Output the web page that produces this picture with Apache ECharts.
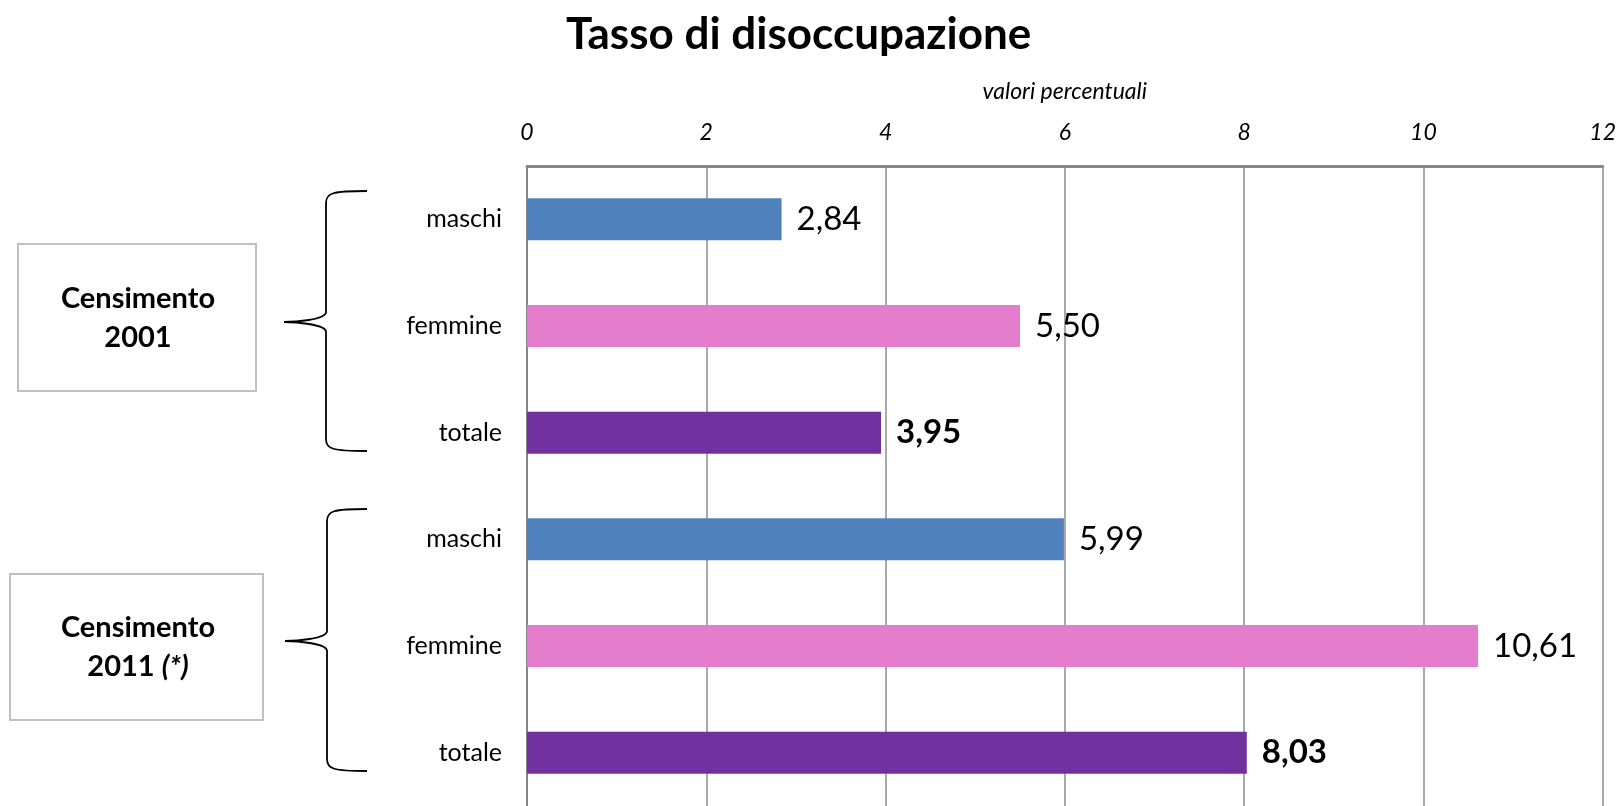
<!DOCTYPE html>
<html>
<head>
<meta charset="utf-8">
<title>Tasso di disoccupazione</title>
<script src="https://cdn.jsdelivr.net/npm/echarts@6/dist/echarts.min.js"></script>
<style>
    html, body { margin: 0; padding: 0; background: #fff; }
    #main { width: 1619px; height: 806px; }
</style>
</head>
<body>
<div id="main"></div>
<script>
// categorie (dall'alto verso il basso)
var categorie = ['maschi', 'femmine', 'totale', 'maschi', 'femmine', 'totale'];
// valori percentuali
var valori = [2.84, 5.50, 3.95, 5.99, 10.61, 8.03];
var colori = ['#4f81bd', '#e47dcb', '#7030a0', '#4f81bd', '#e47dcb', '#7030a0'];
var grassetto = [false, false, true, false, false, true];

var FONT = 'Lato, "Open Sans", sans-serif';

var myChart = echarts.init(document.getElementById('main'));

// dati della serie con colore per barra
var serieDati = [];
for (let i = 0; i < valori.length; i++) {
    serieDati.push({
        value: valori[i],
        itemStyle: {color: colori[i]},
        label: {fontWeight: grassetto[i] ? 'bold' : 'normal'}
    });
}

// graffa fatta di curve e linee
// xp: punta, xv: verticale, xe: estremi, yt: alto, ym: punta, yb: basso
function graffa(xp, xv, xe, yt, ym, yb) {
    var st = {stroke: '#000', lineWidth: 1.8, fill: null};
    return [
        {type: 'bezierCurve', shape: {x1: xe, y1: yt, cpx1: xv + 6, cpy1: yt, cpx2: xv, cpy2: yt + 2, x2: xv, y2: yt + 12}, style: st},
        {type: 'line', shape: {x1: xv, y1: yt + 12, x2: xv, y2: ym - 10}, style: st},
        {type: 'bezierCurve', shape: {x1: xv, y1: ym - 10, cpx1: xv, cpy1: ym - 2, cpx2: xp + 10, cpy2: ym, x2: xp, y2: ym}, style: st},
        {type: 'bezierCurve', shape: {x1: xp, y1: ym, cpx1: xp + 10, cpy1: ym, cpx2: xv, cpy2: ym + 2, x2: xv, y2: ym + 10}, style: st},
        {type: 'line', shape: {x1: xv, y1: ym + 10, x2: xv, y2: yb - 12}, style: st},
        {type: 'bezierCurve', shape: {x1: xv, y1: yb - 12, cpx1: xv, cpy1: yb - 2, cpx2: xv + 6, cpy2: yb, x2: xe, y2: yb}, style: st}
    ];
}

var grafica = [
    {
        type: 'rect',
        shape: {x: 18, y: 244, width: 238, height: 147},
        style: {fill: '#fff', stroke: '#c0c0c0', lineWidth: 2}
    },
    {
        type: 'text',
        x: 138, y: 318,
        style: {
            text: 'Censimento\n2001',
            align: 'center',
            verticalAlign: 'middle',
            lineHeight: 39,
            fontFamily: FONT,
            fontSize: 29,
            fontWeight: 'bold',
            fill: '#000'
        }
    },
    {
        type: 'rect',
        shape: {x: 10, y: 574, width: 253, height: 146},
        style: {fill: '#fff', stroke: '#c0c0c0', lineWidth: 2}
    },
    {
        type: 'text',
        x: 138, y: 647,
        style: {
            text: '{b|Censimento}\n{b|2011 }{i|(*)}',
            align: 'center',
            verticalAlign: 'middle',
            fontFamily: FONT,
            rich: {
                b: {fontFamily: FONT, fontSize: 29, fontWeight: 'bold', lineHeight: 39, fill: '#000'},
                i: {fontFamily: FONT, fontSize: 29, fontWeight: 'bold', fontStyle: 'italic', lineHeight: 39, fill: '#000'}
            }
        }
    }
].concat(graffa(284, 326, 367, 191, 322, 451), graffa(285, 327, 367, 509, 641, 771));

var option = {
    backgroundColor: '#fff',
    title: {
        text: 'Tasso di disoccupazione',
        left: 561,
        top: 8,
        textStyle: {
            fontFamily: FONT,
            fontSize: 44,
            fontWeight: 'bold',
            color: '#000'
        }
    },
    grid: {
        left: 527,
        top: 166,
        width: 1076,
        height: 642
    },
    xAxis: {
        type: 'value',
        position: 'top',
        min: 0,
        max: 12,
        interval: 2,
        name: 'valori percentuali',
        nameLocation: 'middle',
        nameGap: 63,
        nameTextStyle: {
            fontFamily: FONT,
            fontStyle: 'italic',
            fontSize: 23,
            color: '#000'
        },
        axisLine: {show: true, lineStyle: {color: '#868686', width: 3}},
        axisTick: {show: false},
        axisLabel: {
            margin: 22,
            fontFamily: FONT,
            fontStyle: 'italic',
            fontSize: 23,
            color: '#000',
            formatter: function (v) {
                return String(v);
            }
        },
        splitLine: {show: true, lineStyle: {color: '#8c8c8c', width: 1.5}}
    },
    yAxis: {
        type: 'category',
        inverse: true,
        data: categorie,
        axisLine: {show: true, lineStyle: {color: '#868686', width: 2}},
        axisTick: {show: false},
        axisLabel: {
            margin: 25,
            fontFamily: FONT,
            fontSize: 25,
            color: '#000'
        }
    },
    series: [{
        type: 'bar',
        data: serieDati,
        barWidth: 42,
        label: {
            show: true,
            position: 'right',
            distance: 15,
            fontFamily: FONT,
            fontSize: 33,
            color: '#000',
            formatter: function (p) {
                return p.value.toFixed(2).replace('.', ',');
            }
        }
    }],
    graphic: grafica
};

myChart.setOption(option);
</script>
</body>
</html>
